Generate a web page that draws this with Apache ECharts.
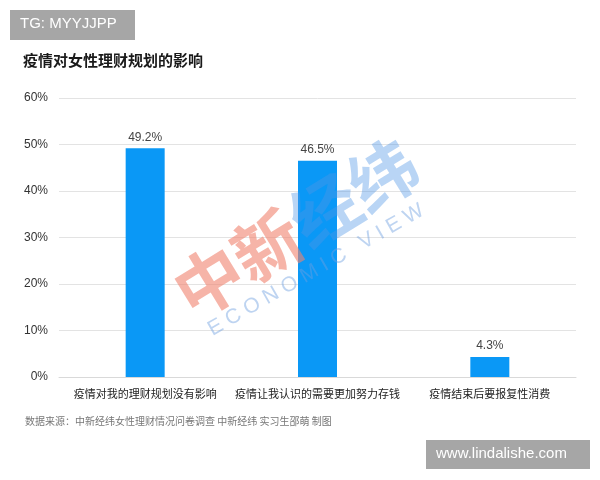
<!DOCTYPE html>
<html>
<head>
<meta charset="utf-8">
<script src="https://cdn.jsdelivr.net/npm/echarts@6/dist/echarts.min.js"></script>
<style>html,body{margin:0;padding:0;background:#fff;}#c{width:600px;height:480px;}</style>
</head>
<body>
<div id="c"></div>
<script>
var categories = ['疫情对我的理财规划没有影响', '疫情让我认识的需要更加努力存钱', '疫情结束后要报复性消费'];
var values = [49.2, 46.5, 4.3];
var yTicks = [0, 10, 20, 30, 40, 50, 60];
var titleText = '疫情对女性理财规划的影响';
var sourceText = '数据来源：中新经纬女性理财情况问卷调查 中新经纬 实习生邵萌 制图';

var chart = echarts.init(document.getElementById('c'));
var font = '"Noto Sans CJK SC", "Microsoft YaHei", sans-serif';
chart.setOption({
  backgroundColor: '#fff',
  animation: false,
  grid: {left: 59, right: 24, top: 98, bottom: 103},
  xAxis: {
    type: 'category', data: categories,
    axisLine: {lineStyle: {color: '#d9d9d9'}},
    axisTick: {show: false},
    axisLabel: {color: '#222', fontSize: 11, fontFamily: font, margin: 11, interval: 0}
  },
  yAxis: {
    type: 'value', min: yTicks[0], max: yTicks[yTicks.length - 1], interval: 10,
    axisLine: {show: false}, axisTick: {show: false},
    splitLine: {lineStyle: {color: '#e3e3e3'}},
    axisLabel: {color: '#333', fontSize: 12, fontFamily: 'Arial, "Liberation Sans", sans-serif', formatter: '{value}%', margin: 11}
  },
  series: [{
    type: 'bar', data: values, barWidth: 39,
    itemStyle: {color: '#0A98F6'},
    label: {show: true, position: 'top', color: '#444', fontSize: 12, fontFamily: 'Arial, "Liberation Sans", sans-serif', formatter: '{c}%', distance: 5},
    z: 2
  }],
  graphic: [
    {type: 'rect', left: 10, top: 10, shape: {width: 125, height: 30}, style: {fill: '#a6a6a6'}, z: 10},
    {type: 'text', left: 20, top: 16, style: {text: 'TG: MYYJJPP', fill: '#fff', font: '15px Arial, "Liberation Sans", sans-serif'}, z: 11},
    {type: 'text', left: 23, top: 53, style: {text: titleText, fill: '#1a1a1a', font: 'bold 15px ' + font}},
    {type: 'text', left: 25, top: 416, style: {text: sourceText, fill: '#777', font: '10px ' + font}},
    {type: 'rect', left: 426, top: 440, shape: {width: 164, height: 29}, style: {fill: '#a6a6a6'}, z: 10},
    {type: 'text', left: 436, top: 446, style: {text: 'www.lindalishe.com', fill: '#fff', font: '15px Arial, "Liberation Sans", sans-serif'}, z: 11},
    {type: 'text', x: 296, y: 228, rotation: 0.55, style: {text: '中新', fill: 'rgba(240,130,110,0.6)', font: 'bold 68px ' + font, align: 'right', verticalAlign: 'middle'}, z: 5},
    {type: 'text', x: 296, y: 228, rotation: 0.55, style: {text: '经纬', fill: 'rgba(80,150,230,0.4)', font: 'bold 68px ' + font, align: 'left', verticalAlign: 'middle'}, z: 5},
    {type: 'text', x: 316, y: 270, rotation: 0.52, style: {text: 'E C O N O M I C   V I E W', fill: 'rgba(110,160,225,0.45)', font: '21px Arial, "Liberation Sans", sans-serif', align: 'center', verticalAlign: 'middle'}, z: 5}
  ]
});
</script>
</body>
</html>
